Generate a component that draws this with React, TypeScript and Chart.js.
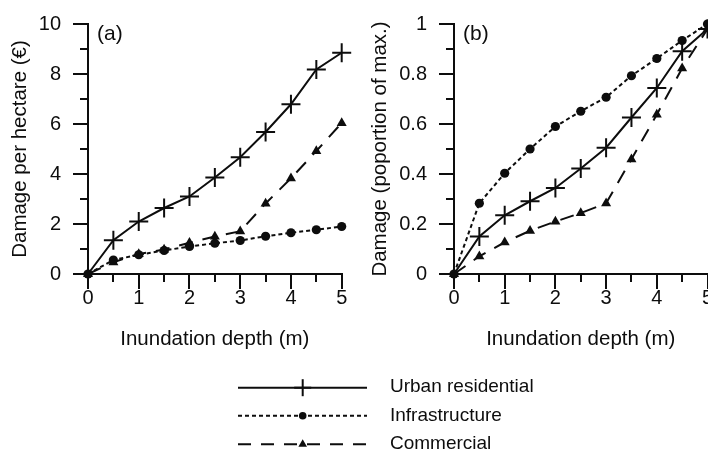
import React, { useEffect, useRef } from "react";
import { Chart, registerables } from "chart.js";

Chart.register(...registerables);

// ---------- data ----------
const depths = [0, 0.5, 1, 1.5, 2, 2.5, 3, 3.5, 4, 4.5, 5];

// panel (a): damage per hectare (€)
const urbanA = [0, 1.35, 2.1, 2.64, 3.1, 3.86, 4.67, 5.68, 6.79, 8.18, 8.85];
const infraA = [0, 0.56, 0.77, 0.94, 1.1, 1.23, 1.34, 1.51, 1.65, 1.77, 1.9];
const commA = [0, 0.47, 0.8, 0.98, 1.25, 1.5, 1.71, 2.82, 3.83, 4.92, 6.04];

// panel (b): damage (proportion of max.)
const urbanB = [0, 0.15, 0.235, 0.291, 0.344, 0.422, 0.505, 0.626, 0.744, 0.891, 0.98];
const infraB = [0, 0.283, 0.403, 0.5, 0.59, 0.651, 0.707, 0.793, 0.862, 0.934, 1.0];
const commB = [0, 0.071, 0.127, 0.173, 0.21, 0.244, 0.283, 0.459, 0.638, 0.823, 0.98];

const seriesLabels = ["Urban residential", "Infrastructure", "Commercial"];
const xTitle = "Inundation depth (m)";
const yTitleA = "Damage per hectare (€)";
const yTitleB = "Damage (poportion of max.)";
const panelA = "(a)";
const panelB = "(b)";

// ---------- styling ----------
const FONT = "'Liberation Sans', Arial, Helvetica, sans-serif";
const INK = "#0d0d0d";

const panelLabelPlugin = {
  id: "panelLabel",
  afterDraw(chart: any, _args: any, opts: any) {
    const { ctx, chartArea } = chart;
    ctx.save();
    ctx.font = `21px ${FONT}`;
    ctx.fillStyle = INK;
    ctx.textBaseline = "alphabetic";
    ctx.textAlign = "left";
    ctx.fillText(opts.text, chartArea.left + 9, chartArea.top + 15.5);
    ctx.restore();
  },
};

function buildDatasets(u: number[], inf: number[], c: number[]) {
  const pts = (arr: number[]) => depths.map((x, k) => ({ x, y: arr[k] }));
  return [
    {
      label: seriesLabels[0],
      data: pts(u),
      borderColor: INK,
      backgroundColor: INK,
      borderWidth: 2,
      pointStyle: "cross",
      pointRadius: 9.5,
      pointBorderWidth: 2,
      pointBorderColor: INK,
      tension: 0,
      clip: false,
    },
    {
      label: seriesLabels[1],
      data: pts(inf),
      borderColor: INK,
      backgroundColor: INK,
      borderWidth: 2,
      borderDash: [4, 3],
      pointStyle: "circle",
      pointRadius: 4.6,
      pointBorderWidth: 0,
      pointBackgroundColor: INK,
      tension: 0,
      clip: false,
    },
    {
      label: seriesLabels[2],
      data: pts(c),
      borderColor: INK,
      backgroundColor: INK,
      borderWidth: 2,
      borderDash: [14, 10],
      pointStyle: "triangle",
      pointRadius: 5.8,
      pointBorderWidth: 0,
      pointBackgroundColor: INK,
      tension: 0,
      clip: false,
    },
  ];
}

const fmtTick = (v: any) => String(Number(Number(v).toFixed(2)));

function buildConfig(
  ds: any[],
  yMax: number,
  yStep: number,
  yMinor: number,
  yTitle: string,
  yWidth: number,
  padRight: number,
  label: string
): any {
  const tickFont = { family: FONT, size: 20 };
  const titleFont = { family: FONT, size: 20.5 };
  const majorGrid = {
    drawOnChartArea: false,
    drawTicks: true,
    tickLength: 15,
    tickWidth: 2,
    tickColor: INK,
    lineWidth: 2,
    color: INK,
  };
  const minorGrid = { ...majorGrid, tickLength: 8 };
  return {
    type: "line",
    data: { datasets: ds },
    plugins: [panelLabelPlugin],
    options: {
      responsive: false,
      animation: false,
      devicePixelRatio: 1,
      layout: { padding: { left: 0, top: 20, right: padRight, bottom: 0 } },
      plugins: {
        legend: { display: false },
        tooltip: { enabled: false },
        panelLabel: { text: label },
      },
      scales: {
        x: {
          type: "linear",
          position: "bottom",
          weight: 1,
          min: 0,
          max: 5,
          ticks: {
            stepSize: 1,
            autoSkip: false,
            maxRotation: 0,
            padding: -3,
            color: INK,
            font: tickFont,
            callback: fmtTick,
          },
          grid: majorGrid,
          border: { display: true, color: INK, width: 2 },
          title: {
            display: true,
            text: xTitle,
            color: INK,
            font: titleFont,
            padding: { top: 0, bottom: 8.5 },
          },
          afterFit: (s: any) => {
            s.height = 86;
          },
        },
        xMinor: {
          type: "linear",
          position: "bottom",
          weight: 0,
          min: 0,
          max: 5,
          ticks: { stepSize: 0.5, display: false },
          grid: minorGrid,
          border: { display: false },
          afterFit: (s: any) => {
            s.height = 0;
          },
        },
        y: {
          type: "linear",
          position: "left",
          weight: 1,
          min: 0,
          max: yMax,
          ticks: {
            stepSize: yStep,
            autoSkip: false,
            padding: 12,
            color: INK,
            font: tickFont,
            callback: fmtTick,
          },
          grid: majorGrid,
          border: { display: true, color: INK, width: 2 },
          title: {
            display: true,
            text: yTitle,
            color: INK,
            font: titleFont,
            padding: { top: 8, bottom: 0 },
          },
          afterFit: (s: any) => {
            s.width = yWidth;
          },
        },
        yMinor: {
          type: "linear",
          position: "left",
          weight: 0,
          min: 0,
          max: yMax,
          ticks: { stepSize: yMinor, display: false },
          grid: minorGrid,
          border: { display: false },
          afterFit: (s: any) => {
            s.width = 0;
          },
        },
      },
    },
  };
}

// ---------- legend (line samples with markers) ----------
function LegendSample({ kind, y }: { kind: number; y: number }) {
  const x1 = 238;
  const x2 = 367;
  const mx = 302.7;
  const dash = kind === 0 ? undefined : kind === 1 ? "4 3" : "13 10";
  return (
    <g>
      <line x1={x1} y1={y} x2={x2} y2={y} stroke={INK} strokeWidth={2} strokeDasharray={dash} />
      {kind === 0 && (
        <g stroke={INK} strokeWidth={2}>
          <line x1={mx} y1={y - 8.5} x2={mx} y2={y + 8.5} />
          <line x1={mx - 8.5} y1={y} x2={mx + 8.5} y2={y} />
        </g>
      )}
      {kind === 1 && <circle cx={mx} cy={y} r={3.8} fill={INK} />}
      {kind === 2 && (
        <polygon
          points={`${mx - 4.3},${y + 2.5} ${mx + 4.3},${y + 2.5} ${mx},${y - 5}`}
          fill={INK}
        />
      )}
    </g>
  );
}

export default function App() {
  const refA = useRef<HTMLCanvasElement | null>(null);
  const refB = useRef<HTMLCanvasElement | null>(null);

  useEffect(() => {
    const a = new Chart(
      refA.current as HTMLCanvasElement,
      buildConfig(buildDatasets(urbanA, infraA, commA), 10, 2, 1, yTitleA, 88, 18.3, panelA)
    );
    const b = new Chart(
      refB.current as HTMLCanvasElement,
      buildConfig(buildDatasets(urbanB, infraB, commB), 1, 0.2, 0.1, yTitleB, 94, 32.5, panelB)
    );
    return () => {
      a.destroy();
      b.destroy();
    };
  }, []);

  const rowsLine = [387.7, 415.7, 444.3];
  const rowsText = [392.3, 421, 449.3];

  return (
    <div
      style={{
        position: "fixed",
        left: 0,
        top: 0,
        width: 708,
        height: 452,
        overflow: "hidden",
        background: "#ffffff",
      }}
    >
      <canvas
        ref={refA}
        width={360}
        height={360}
        style={{ position: "absolute", left: 0, top: 0, width: 360, height: 360 }}
      />
      <canvas
        ref={refB}
        width={380}
        height={360}
        style={{ position: "absolute", left: 360, top: 0, width: 380, height: 360 }}
      />
      <svg
        width={708}
        height={452}
        style={{ position: "absolute", left: 0, top: 0, pointerEvents: "none" }}
      >
        {seriesLabels.map((lab, k) => (
          <g key={lab}>
            <LegendSample kind={k} y={rowsLine[k]} />
            <text x={390} y={rowsText[k]} fill={INK} fontFamily={FONT} fontSize={19}>
              {lab}
            </text>
          </g>
        ))}
      </svg>
    </div>
  );
}
